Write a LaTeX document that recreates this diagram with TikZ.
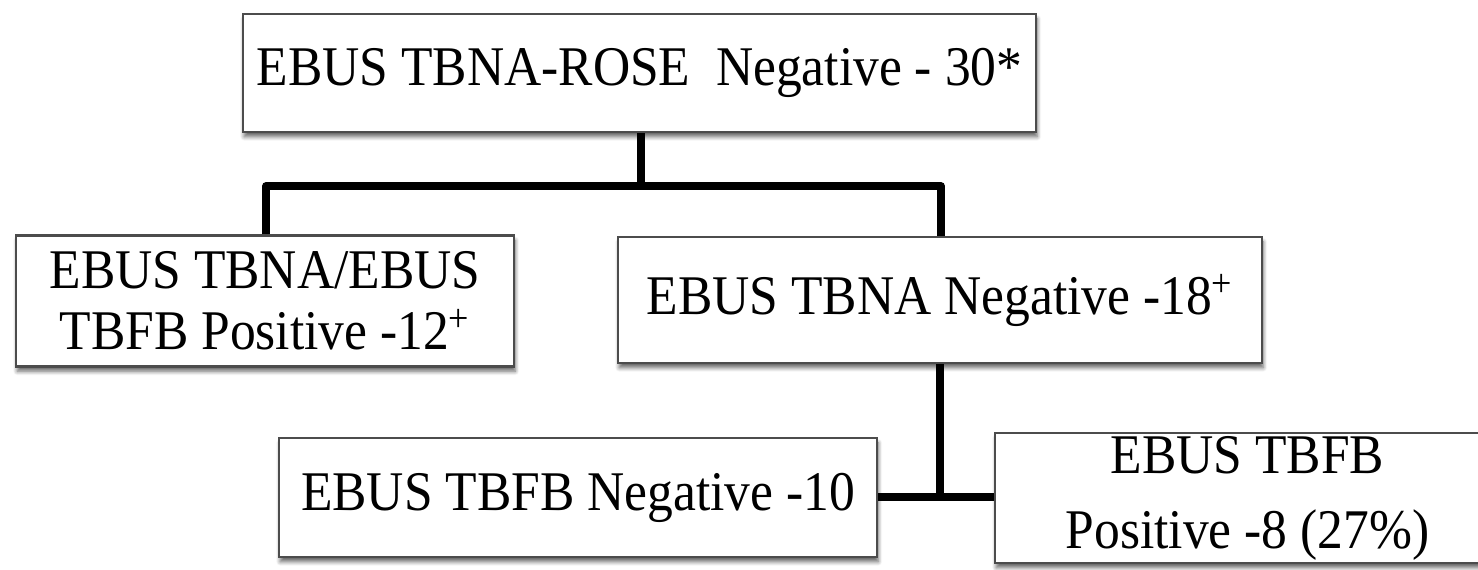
\documentclass[tikz,border=0pt]{standalone}
\usepackage{fontspec}
\setmainfont{Liberation Serif}[FakeStretch=0.92]
\usetikzlibrary{shadows.blur}

\tikzset{
  flowbox/.style={
    draw=black!70, line width=1.1pt, fill=white, rectangle,
    inner sep=0pt, align=center,
    font=\fontsize{28}{30.5}\selectfont,
    blur shadow={shadow xshift=0.6pt, shadow yshift=-2.4pt,
                 shadow blur steps=6, shadow blur radius=2pt, shadow opacity=60}
  },
  link/.style={line width=3.8pt, black},
}

\begin{document}
\begin{tikzpicture}[x=0.5pt, y=-0.5pt]
  \useasboundingbox (0,0) rectangle (1478,569);
  \clip (0,0) rectangle (1478,569);

  % boxes
  \node[flowbox, minimum width=396.5pt, minimum height=59pt]
    (root) at (639.5,73) {EBUS TBNA-ROSE\ \ Negative - 30*};
  \node[flowbox, minimum width=249pt, minimum height=65.5pt]
    (pos) at (265,301) {EBUS TBNA/EBUS\\TBFB Positive -12\textsuperscript{+}};
  \node[flowbox, minimum width=322pt, minimum height=63pt]
    (neg) at (940,300) {EBUS TBNA Negative -18\textsuperscript{+}};
  \node[flowbox, minimum width=299pt, minimum height=59.5pt]
    (fbneg) at (578,497.5) {EBUS TBFB Negative -10};
  \node[flowbox, minimum width=252.5pt, minimum height=65pt,
        font=\fontsize{28}{37.5}\selectfont]
    (fbpos) at (1247.5,498) {EBUS TBFB\\Positive -8 (27\%)};

  % connectors
  \coordinate (split) at (641,186);
  \coordinate (splitL) at (266,186);
  \coordinate (splitR) at (941,186);
  \coordinate (join) at (940,497);

  \draw[link] (root.south -| split) -- (split);
  \draw[link, line join=round] (splitL |- pos.north) -- (splitL) -- (splitR) -- (splitR |- neg.north);
  \draw[link] (neg.south -| join) -- (join);
  \draw[link] (fbneg.east |- join) -- (fbpos.west |- join);
\end{tikzpicture}
\end{document}
